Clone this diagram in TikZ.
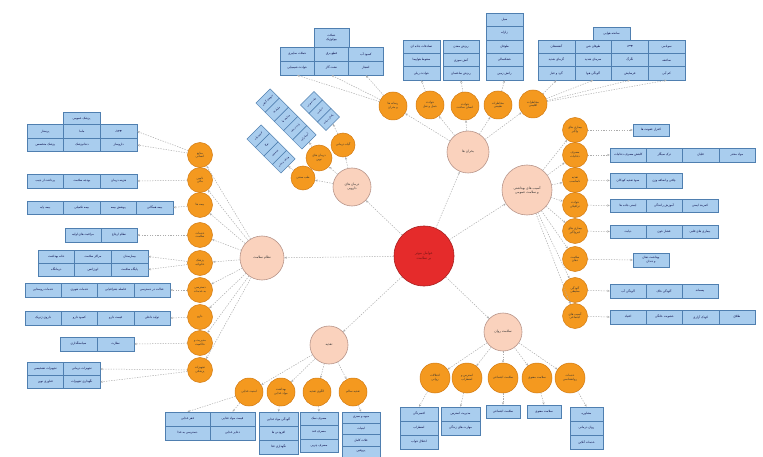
\documentclass[tikz,border=0pt]{standalone}
\usepackage{fontspec}
\newfontfamily\arabicfont[Script=Arabic]{DejaVu Sans}
\TeXXeTstate=1
\usetikzlibrary{arrows.meta}
\newcommand{\fa}[1]{\beginR #1\endR}
\definecolor{cred}{HTML}{E52B2B}
\definecolor{credd}{HTML}{A82020}
\definecolor{peach}{HTML}{FAD2BD}
\definecolor{peachd}{HTML}{B8958A}
\definecolor{orng}{HTML}{F4991F}
\definecolor{orngd}{HTML}{D27A12}
\definecolor{boxf}{HTML}{A9CDEE}
\definecolor{boxd}{HTML}{4F7FB0}
\tikzset{
 x=1pt,y=-1pt,
 every node/.style={font=\arabicfont\fontsize{3}{3.6}\selectfont,text=black!80},
 ctr/.style={circle,draw=credd,fill=cred,minimum size=60,inner sep=0,align=center,line width=0.6pt,font=\arabicfont\fontsize{3.6}{4.2}\selectfont,text=credd!70!black},
 mainc/.style={circle,draw=peachd,fill=peach,minimum size=40,inner sep=0,align=center,line width=0.6pt,font=\arabicfont\fontsize{3.3}{4}\selectfont},
 orc/.style={circle,draw=orngd,fill=orng,minimum size=26,inner sep=0,align=center,line width=0.5pt},
 bx/.style={rectangle,draw=boxd,fill=boxf,inner sep=0,align=center,line width=0.5pt,text=black!75!blue},
 tbx/.style={bx,transform shape,font=\arabicfont\fontsize{2.4}{2.9}\selectfont},
 con/.style={draw=gray!65,line width=0.5pt,dash pattern=on 1.3pt off 1.3pt,-{Stealth[length=2.6pt,width=2.2pt]}},
}
% horizontal row: #1 prefix, #2 left x, #3 center y, #4 width, #5 height, #6 texts
\newcommand{\brow}[6]{\foreach \txt [count=\i] in {#6} {\node[bx,minimum width=#4,minimum height=#5] (#1\i) at ({#2+(\i-0.5)*#4},#3) {\txt};}}
% vertical column: #1 prefix, #2 center x, #3 top y, #4 width, #5 height, #6 texts
\newcommand{\bcol}[6]{\foreach \txt [count=\i] in {#6} {\node[bx,minimum width=#4,minimum height=#5] (#1\i) at (#2,{#3+(\i-0.5)*#5}) {\txt};}}
\begin{document}
\begin{tikzpicture}
\fill[white] (0,0) rectangle (763,457);
\useasboundingbox (0,0) rectangle (763,457);

% ---------- centre and main circles ----------
\node[ctr] (C) at (424,256) {\fa{عوامل موثر}\\\fa{بر سلامت}};
\node[mainc,minimum size=42] (T) at (468,152) {\fa{بحران ها}};
\node[mainc,minimum size=50] (R) at (527,190) {\fa{آسیب های بهداشتی}\\\fa{و سلامت عمومی}};
\node[mainc,minimum size=38] (BR) at (503,332) {\fa{سلامت روان}};
\node[mainc,minimum size=38] (B) at (329,345) {\fa{تغذیه}};
\node[mainc,minimum size=44] (L) at (262,258) {\fa{نظام سلامت}};
\node[mainc,minimum size=38] (U) at (352,187) {\fa{درمان های}\\\fa{دارویی}};

\foreach \m in {T,R,BR,B,L,U} \draw[con] (C) -- (\m);

% ---------- top: crises ----------
\node[orc,minimum size=28] (t1) at (393,106) {\fa{رسانه ها}\\\fa{و بحران}};
\node[orc,minimum size=28] (t2) at (430,105) {\fa{حوادث}\\\fa{حمل و نقل}};
\node[orc,minimum size=28] (t3) at (465,106) {\fa{حوادث}\\\fa{انسان ساخت}};
\node[orc,minimum size=28] (t4) at (498,105) {\fa{مخاطرات}\\\fa{طبیعی}};
\node[orc,minimum size=28] (t5) at (533,104) {\fa{مخاطرات}\\\fa{اقلیمی}};
\foreach \k in {t1,t2,t3,t4,t5} \draw[con] (T) -- (\k);

\node[bx,minimum width=35,minimum height=19] (t1top) at (331.5,37.5) {\fa{حملات}\\\fa{بیولوژیک}};
\brow{t1a}{280}{54}{34.33}{14}{\fa{حملات سایبری},\fa{قطع برق},\fa{کمبود آب}}
\brow{t1b}{280}{68}{34.33}{14}{\fa{حوادث شیمیایی},\fa{نشت گاز},\fa{انفجار}}
\foreach \j in {1,2,3} \draw[con] (t1) -- (t1b\j.south);

\bcol{t2c}{421.5}{40}{37}{13.33}{\fa{تصادفات جاده ای},\fa{سقوط هواپیما},\fa{حوادث ریلی}}
\draw[con] (t2) -- (t2c3.south);
\bcol{t3c}{461}{40}{36}{13.33}{\fa{ریزش معدن},\fa{آتش سوزی},\fa{ریزش ساختمان}}
\draw[con] (t3) -- (t3c3.south);
\bcol{t4c}{504.5}{13}{37}{13.4}{\fa{سیل},\fa{زلزله},\fa{طوفان},\fa{خشکسالی},\fa{رانش زمین}}
\draw[con] (t4) -- (t4c5.south);

\node[bx,minimum width=37,minimum height=13] (t5top) at (611.5,33.5) {\fa{سانحه هوایی}};
\brow{t5a}{538}{46.67}{36.75}{13.33}{\fa{آتشفشان},\fa{طوفان شن},\fa{بهمن},\fa{سونامی}}
\brow{t5b}{538}{60}{36.75}{13.33}{\fa{گرمای شدید},\fa{سرمای شدید},\fa{تگرگ},\fa{صاعقه}}
\brow{t5c}{538}{73.33}{36.75}{13.33}{\fa{گرد و غبار},\fa{آلودگی هوا},\fa{فرسایش},\fa{کم آبی}}
\foreach \j in {1,2,3,4} \draw[con] (t5) -- (t5c\j.south);

% ---------- right: public health ----------
\node[orc,minimum size=25] (r1) at (575,130) {\fa{بیماری های}\\\fa{واگیر}};
\node[orc,minimum size=25] (r2) at (575,155) {\fa{مصرف}\\\fa{دخانیات}};
\node[orc,minimum size=25] (r3) at (575,180) {\fa{تغذیه}\\\fa{نامناسب}};
\node[orc,minimum size=25] (r4) at (575,205) {\fa{حوادث}\\\fa{ترافیکی}};
\node[orc,minimum size=25] (r5) at (575,231) {\fa{بیماری های}\\\fa{غیرواگیر}};
\node[orc,minimum size=25] (r6) at (575,259) {\fa{سلامت}\\\fa{دهان}};
\node[orc,minimum size=25] (r7) at (575,290) {\fa{آلودگی}\\\fa{محیطی}};
\node[orc,minimum size=25] (r8) at (575,316) {\fa{آسیب های}\\\fa{اجتماعی}};
\foreach \k in {r1,r2,r3,r4,r5,r6,r7,r8} \draw[con] (R) -- (\k);

\node[bx,minimum width=36,minimum height=12] (r1a) at (651,130) {\fa{کنترل عفونت ها}};
\brow{r2a}{610}{155}{36.25}{14}{\fa{کاهش مصرف دخانیات},\fa{ترک سیگار},\fa{قلیان},\fa{مواد مخدر}}
\brow{r3a}{610}{180.5}{36}{15}{\fa{سوء تغذیه کودکان},\fa{چاقی و اضافه وزن}}
\brow{r4a}{610}{205.5}{36}{13}{\fa{ایمنی جاده ها},\fa{آموزش رانندگی},\fa{کمربند ایمنی}}
\brow{r5a}{610}{231.5}{36}{13}{\fa{دیابت},\fa{فشار خون},\fa{بیماری های قلبی}}
\node[bx,minimum width=36,minimum height=14] (r6a) at (651,260) {\fa{بهداشت دهان}\\\fa{و دندان}};
\brow{r7a}{610}{291}{36}{14}{\fa{آلودگی آب},\fa{آلودگی خاک},\fa{پسماند}}
\brow{r8a}{610}{317}{36.25}{14}{\fa{اعتیاد},\fa{خشونت خانگی},\fa{کودک آزاری},\fa{طلاق}}
\draw[con] (r1) -- (r1a.west);
\draw[con] (r2) -- (r2a1.west);
\draw[con] (r3) -- (r3a1.west);
\draw[con] (r4) -- (r4a1.west);
\draw[con] (r5) -- (r5a1.west);
\draw[con] (r6) -- (r6a.west);
\draw[con] (r7) -- (r7a1.west);
\draw[con] (r8) -- (r8a1.west);

% ---------- bottom right: mental health ----------
\node[orc,minimum size=30] (br1) at (435,378) {\fa{اختلالات}\\\fa{روانی}};
\node[orc,minimum size=30] (br2) at (467,378) {\fa{استرس و}\\\fa{اضطراب}};
\node[orc,minimum size=30] (br3) at (503,378) {\fa{سلامت اجتماعی}};
\node[orc,minimum size=30] (br4) at (537,378) {\fa{سلامت معنوی}};
\node[orc,minimum size=30] (br5) at (570,378) {\fa{خدمات}\\\fa{روانشناسی}};
\foreach \k in {br1,br2,br3,br4,br5} \draw[con] (BR) -- (\k);

\bcol{bra}{419}{407}{38}{14}{\fa{افسردگی},\fa{اضطراب},\fa{اختلال خواب}}
\bcol{brb}{460.5}{407}{39}{14}{\fa{مدیریت استرس},\fa{مهارت های زندگی}}
\node[bx,minimum width=34,minimum height=13] (brc1) at (503,411.5) {\fa{سلامت اجتماعی}};
\node[bx,minimum width=34,minimum height=13] (brd1) at (544,411.5) {\fa{سلامت معنوی}};
\bcol{bre}{586.5}{407}{33}{14}{\fa{مشاوره},\fa{روان درمانی},\fa{خدمات آنلاین}}
\draw[con] (br1) -- (bra1.north);
\draw[con] (br2) -- (brb1.north);
\draw[con] (br3) -- (brc1.north);
\draw[con] (br4) -- (brd1.north);
\draw[con] (br5) -- (bre1.north);

% ---------- bottom: nutrition ----------
\node[orc,minimum size=28] (b1) at (249,392) {\fa{امنیت غذایی}};
\node[orc,minimum size=28] (b2) at (281,392) {\fa{بهداشت}\\\fa{مواد غذایی}};
\node[orc,minimum size=28] (b3) at (317,392) {\fa{الگوی تغذیه}};
\node[orc,minimum size=28] (b4) at (353,392) {\fa{تغذیه سالم}};
\foreach \k in {b1,b2,b3,b4} \draw[con] (B) -- (\k);

\brow{b1a}{165}{419}{45}{14}{\fa{فقر غذایی},\fa{قیمت مواد غذایی}}
\brow{b1b}{165}{433}{45}{14}{\fa{دسترسی به غذا},\fa{ذخایر غذایی}}
\bcol{b2c}{278.5}{412}{39}{14}{\fa{آلودگی مواد غذایی},\fa{افزودنی ها},\fa{نگهداری غذا}}
\bcol{b3c}{319}{412}{38}{13.5}{\fa{مصرف نمک},\fa{مصرف قند},\fa{مصرف چربی}}
\bcol{b4c}{361}{412}{38}{11.25}{\fa{میوه و سبزی},\fa{لبنیات},\fa{غلات کامل},\fa{پروتئین}}
\draw[con] (b1) -- (b1a1.north);
\draw[con] (b1) -- (b1a2.north);
\draw[con] (b2) -- (b2c1.north);
\draw[con] (b3) -- (b3c1.north);
\draw[con] (b4) -- (b4c1.north);

% ---------- left: health system ----------
\node[orc,minimum size=25] (l1) at (200,155) {\fa{منابع}\\\fa{انسانی}};
\node[orc,minimum size=25] (l2) at (200,180) {\fa{تامین}\\\fa{مالی}};
\node[orc,minimum size=25] (l3) at (200,205) {\fa{بیمه ها}};
\node[orc,minimum size=25] (l4) at (200,235) {\fa{خدمات}\\\fa{سلامت}};
\node[orc,minimum size=25] (l5) at (200,263) {\fa{پزشک}\\\fa{خانواده}};
\node[orc,minimum size=25] (l6) at (200,290) {\fa{دسترسی}\\\fa{به خدمات}};
\node[orc,minimum size=25] (l7) at (200,317) {\fa{دارو}};
\node[orc,minimum size=25] (l8) at (200,343) {\fa{مدیریت و}\\\fa{حاکمیت}};
\node[orc,minimum size=25] (l9) at (200,370) {\fa{تجهیزات}\\\fa{پزشکی}};
\foreach \k in {l1,l2,l3,l4,l5,l6,l7,l8,l9} \draw[con] (L) -- (\k);

\node[bx,minimum width=37,minimum height=13] (l1top) at (81.5,118.5) {\fa{پزشک عمومی}};
\brow{l1a}{27}{131.5}{36.67}{13.5}{\fa{پرستار},\fa{ماما},\fa{بهورز}}
\brow{l1b}{27}{145}{36.67}{13.5}{\fa{پزشک متخصص},\fa{دندانپزشک},\fa{داروساز}}
\draw[con] (l1) -- (l1a3.east);
\draw[con] (l1) -- (l1b3.east);
\brow{l2a}{27}{181}{36.67}{14}{\fa{پرداخت از جیب},\fa{بودجه سلامت},\fa{هزینه درمان}}
\draw[con] (l2) -- (l2a3.east);
\brow{l3a}{27}{207.5}{36.5}{13}{\fa{بیمه پایه},\fa{بیمه تکمیلی},\fa{پوشش بیمه},\fa{بیمه همگانی}}
\draw[con] (l3) -- (l3a4.east);
\brow{l4a}{65}{235}{36}{14}{\fa{مراقبت های اولیه},\fa{نظام ارجاع}}
\draw[con] (l4) -- (l4a2.east);
\brow{l5a}{38}{256.5}{36.67}{13}{\fa{خانه بهداشت},\fa{مراکز سلامت},\fa{بیمارستان}}
\brow{l5b}{38}{269.5}{36.67}{13}{\fa{درمانگاه},\fa{اورژانس},\fa{پایگاه سلامت}}
\draw[con] (l5) -- (l5a3.east);
\draw[con] (l5) -- (l5b3.east);
\brow{l6a}{25}{290}{36.25}{14}{\fa{خدمات روستایی},\fa{خدمات شهری},\fa{فاصله جغرافیایی},\fa{عدالت در دسترسی}}
\draw[con] (l6) -- (l6a4.east);
\brow{l7a}{25}{318}{36.25}{14}{\fa{داروی ژنریک},\fa{کمبود دارو},\fa{قیمت دارو},\fa{تولید داخلی}}
\draw[con] (l7) -- (l7a4.east);
\brow{l8a}{60}{344}{37}{14}{\fa{سیاستگذاری},\fa{نظارت}}
\draw[con] (l8) -- (l8a2.east);
\brow{l9a}{27}{369}{36.5}{13}{\fa{تجهیزات تشخیصی},\fa{تجهیزات درمانی}}
\brow{l9b}{27}{382}{36.5}{13}{\fa{فناوری نوین},\fa{نگهداری تجهیزات}}
\draw[con] (l9) -- (l9a2.east);
\draw[con] (l9) -- (l9b2.east);

% ---------- upper left: therapies ----------
\node[orc,minimum size=24] (u1) at (343,145) {\fa{گیاه درمانی}};
\node[orc,minimum size=26] (u2) at (319,158) {\fa{درمان های}\\\fa{نوین}};
\node[orc,minimum size=24] (u3) at (303,178) {\fa{طب سنتی}};
\foreach \k in {u1,u2,u3} \draw[con] (U) -- (\k);

\begin{scope}[shift={(320,111)},rotate=45]
 \foreach \txt [count=\i] in {\fa{طب سوزنی},\fa{حجامت},\fa{ماساژ درمانی}}
  \node[tbx,minimum width=19,minimum height=12] (ga\i) at (0,{(\i-2)*12}) {\txt};
\end{scope}
\begin{scope}[shift={(286,119)},rotate=45]
 \foreach \txt [count=\i] in {\fa{داروهای گیاهی},\fa{مکمل ها},\fa{ویتامین ها},\fa{رژیم درمانی},\fa{آروماتراپی}}
  \node[tbx,minimum width=20,minimum height=13] (gb\i) at (0,{(\i-3)*13}) {\txt};
\end{scope}
\begin{scope}[shift={(271,149)},rotate=45]
 \foreach \txt [count=\i] in {\fa{فیزیوتراپی},\fa{یوگا},\fa{مدیتیشن},\fa{ورزش درمانی}}
  \node[tbx,minimum width=20,minimum height=12] (gc\i) at (0,{(\i-2.5)*12}) {\txt};
\end{scope}
\draw[con] (u1) -- (ga3.south);
\draw[con] (u2) -- (gb5.south);
\draw[con] (u3) -- (gc4.south);
\end{tikzpicture}
\end{document}
